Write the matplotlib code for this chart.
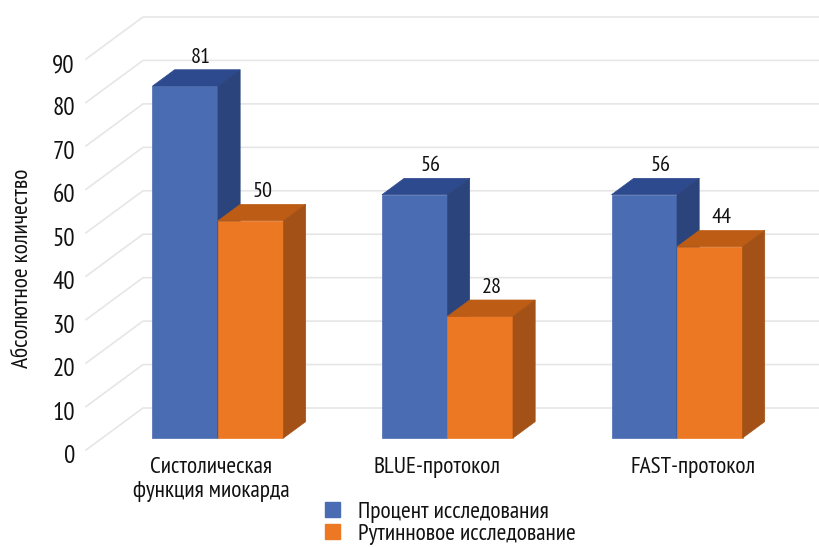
import logging

import matplotlib

matplotlib.use("Agg")
import matplotlib.pyplot as plt
from matplotlib.patches import Patch, Polygon
from matplotlib.transforms import ScaledTranslation

logging.getLogger("matplotlib.font_manager").setLevel(logging.ERROR)
plt.rcParams["font.family"] = ["PT Sans Narrow", "Roboto Condensed", "Roboto", "DejaVu Sans"]

categories = ["Систолическая\nфункция миокарда", "BLUE-протокол", "FAST-протокол"]
series_names = ["Процент исследования", "Рутинновое исследование"]
percent_values = [81, 56, 56]
routine_values = [50, 28, 44]
y_ticks = list(range(0, 100, 10))

# front face, top, side
BLUE = ("#4A6CB2", "#2E4A8E", "#2C447C")
ORANGE = ("#ED7823", "#BD5C15", "#A35116")
GRID = "#E6E6E6"

# one depth unit = whole floor of the fake 3d box
DEPTH_X = 57 / 229.5
DEPTH_Y = 42 / 4.344
BAR_WIDTH = 65.5 / 229.5
BAR_D0 = 0.286
BAR_D1 = 0.675
LABEL_POS = [0.04, 1.025, 2.14]


def project(x, value, depth):
    return x + depth * DEPTH_X, value + depth * DEPTH_Y


def draw_bar(ax, left, value, colors):
    right = left + BAR_WIDTH
    front = [
        project(left, 0, BAR_D0),
        project(right, 0, BAR_D0),
        project(right, value, BAR_D0),
        project(left, value, BAR_D0),
    ]
    top = [
        project(left, value, BAR_D0),
        project(right, value, BAR_D0),
        project(right, value, BAR_D1),
        project(left, value, BAR_D1),
    ]
    side = [
        project(right, 0, BAR_D0),
        project(right, 0, BAR_D1),
        project(right, value, BAR_D1),
        project(right, value, BAR_D0),
    ]
    for verts, color in zip([front, top, side], colors):
        ax.add_patch(Polygon(verts, closed=True, fc=color, ec=color, lw=0.5, clip_on=False, zorder=3))


fig = plt.figure(figsize=(8.2, 5.47), dpi=100)
ax = fig.add_axes([86 / 820, 97 / 547, 734 / 820, 391 / 547])
ax.set_xlim(-0.504, 2.694)
ax.set_ylim(0, 90)
for spine in ax.spines.values():
    spine.set_visible(False)

# floor and back wall lines
for tick in y_ticks:
    xs, ys = zip(project(-0.504, tick, 0), project(-0.504, tick, 1), project(2.694, tick, 1))
    ax.plot(xs, ys, color=GRID, lw=1.2, clip_on=False, zorder=1)

for i in range(len(categories)):
    draw_bar(ax, i - BAR_WIDTH, percent_values[i], BLUE)
    draw_bar(ax, i, routine_values[i], ORANGE)
    for left, value, shift in [(i - BAR_WIDTH, percent_values[i], 16), (i, routine_values[i], 12)]:
        x, y = project(left + BAR_WIDTH / 2, value, BAR_D0)
        ax.annotate(
            str(value),
            (x, y),
            textcoords="offset points",
            xytext=(shift * 0.72, 29 * 0.72),
            ha="center",
            va="center",
            fontsize=16,
            color="#111111",
            zorder=4,
        )

ax.set_yticks(y_ticks)
ax.set_xticks(LABEL_POS, categories)
ax.tick_params(axis="y", length=0, pad=8, labelsize=18, labelcolor="#111111")
ax.tick_params(axis="x", length=0, pad=5, labelsize=16.8, labelcolor="#111111")
shift_down = ScaledTranslation(0, -4 / 72 * 0.72, fig.dpi_scale_trans)
for lab in ax.get_yticklabels():
    lab.set_transform(lab.get_transform() + shift_down)

ax.set_ylabel("Абсолютное количество", fontsize=16.8, color="#111111")
ax.yaxis.set_label_coords(-0.072, 0.465)

handles = [Patch(color=BLUE[0]), Patch(color=ORANGE[0])]
fig.legend(
    handles,
    series_names,
    loc="upper left",
    bbox_to_anchor=(306 / 820, 1 - 483 / 547),
    frameon=False,
    fontsize=16.8,
    handlelength=0.64,
    handleheight=0.64,
    handletextpad=0.77,
    labelspacing=0.05,
    borderpad=0.3,
    labelcolor="#111111",
)

fig.savefig("out.png", dpi=100)
